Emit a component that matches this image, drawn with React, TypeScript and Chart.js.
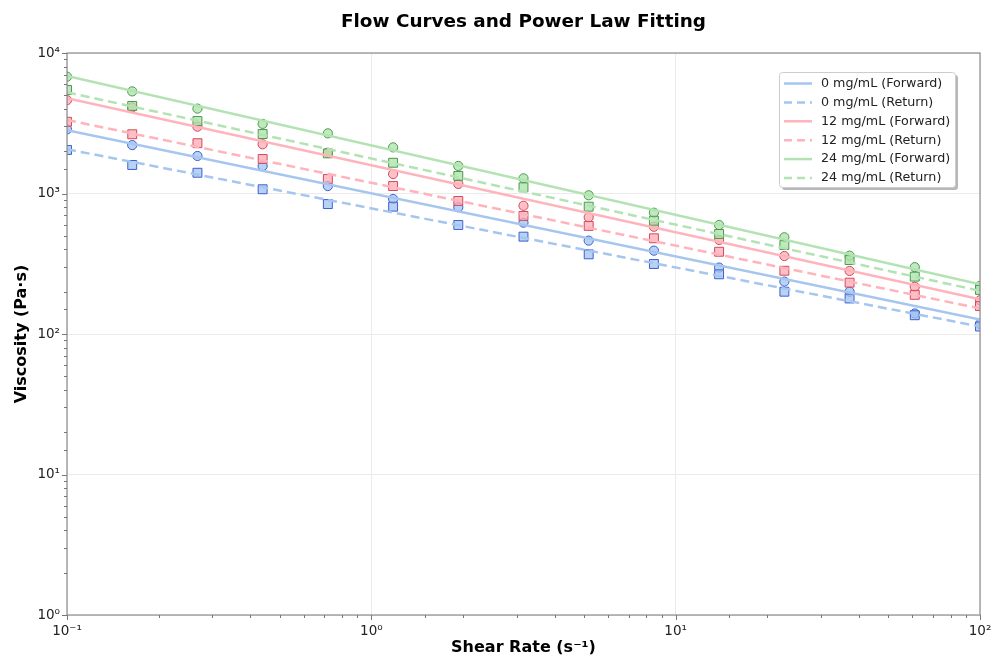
import React, { useEffect, useRef } from 'react';
import { Chart, registerables } from 'chart.js';

Chart.register(...registerables);

// Shear rates (s^-1)
const shearRates = [0.1, 0.1638, 0.2683, 0.4394, 0.7197, 1.179, 1.931, 3.162, 5.179, 8.483, 13.89, 22.76, 37.28, 61.05, 100];

// Measured viscosities (Pa·s)
const fwd0 = [2860, 2210, 1850, 1570, 1130, 914, 798, 620, 462, 392, 297, 236, 200, 140, 118];
const ret0 = [2040, 1596, 1405, 1072, 841, 806, 597, 493, 369, 315, 266, 200, 179, 136, 113];
const fwd12 = [4620, 4100, 2990, 2240, 1950, 1376, 1170, 818, 677, 580, 467, 359, 281, 217, 174];
const ret12 = [3240, 2640, 2280, 1760, 1268, 1130, 885, 692, 588, 480, 385, 282, 232, 190, 158];
const fwd24 = [6780, 5330, 4020, 3130, 2680, 2130, 1570, 1282, 971, 730, 597, 488, 361, 299, 220];
const ret24 = [5460, 4200, 3280, 2650, 1930, 1655, 1334, 1107, 806, 640, 515, 430, 336, 256, 206];

// Power-law fit endpoints (straight lines on log-log axes)
const fitX = [0.1, 100];
const fit0F = [2820, 127];
const fit0R = [2065, 113];
const fit12F = [4760, 177];
const fit12R = [3335, 152];
const fit24F = [6850, 226];
const fit24R = [5250, 203];

const seriesLabels = [
  '0 mg/mL (Forward)',
  '0 mg/mL (Return)',
  '12 mg/mL (Forward)',
  '12 mg/mL (Return)',
  '24 mg/mL (Forward)',
  '24 mg/mL (Return)',
];

const xTickPowers = [-1, 0, 1, 2];
const yTickPowers = [0, 1, 2, 3, 4];

const FONT = "'DejaVu Sans', sans-serif";

const lineColors = ['#a6c6f0', '#ffb3bb', '#b3e3b3'];
const fillColors = ['rgba(160,195,240,0.75)', 'rgba(255,170,180,0.75)', 'rgba(170,225,170,0.75)'];
const edgeColors = ['#3d5fd0', '#d04a5c', '#4a9a4a'];

const supers: Record<string, string> = { '-': '⁻', '0': '⁰', '1': '¹', '2': '²', '3': '³', '4': '⁴' };
const powLabel = (p: number) => '10' + String(p).split('').map((c) => supers[c]).join('');

const isMajor = (v: number) => {
  const l = Math.log10(v);
  return Math.abs(l - Math.round(l)) < 1e-6;
};

const zip = (xs: number[], ys: number[]) => xs.map((x, i) => ({ x, y: ys[i] }));

const decorPlugin = {
  id: 'decor',
  afterDraw(chart: any) {
    const { ctx, chartArea } = chart;
    const { left, right, top, bottom } = chartArea;
    ctx.save();
    // frame
    ctx.strokeStyle = '#8c8c8c';
    ctx.lineWidth = 1.2;
    ctx.strokeRect(left, top, right - left, bottom - top);

    // tick marks
    ctx.strokeStyle = '#777';
    ctx.lineWidth = 1;
    const xs = chart.scales.x;
    xs.ticks.forEach((t: any) => {
      if (t.value < xs.min - 1e-9 || t.value > xs.max + 1e-9) return;
      const px = Math.round(xs.getPixelForValue(t.value)) + 0.5;
      const len = isMajor(t.value) ? 5 : 3;
      ctx.beginPath();
      ctx.moveTo(px, bottom);
      ctx.lineTo(px, bottom + len);
      ctx.stroke();
    });
    const ys = chart.scales.y;
    ys.ticks.forEach((t: any) => {
      if (t.value < ys.min - 1e-9 || t.value > ys.max + 1e-9) return;
      const py = Math.round(ys.getPixelForValue(t.value)) + 0.5;
      const len = isMajor(t.value) ? 5 : 3;
      ctx.beginPath();
      ctx.moveTo(left, py);
      ctx.lineTo(left - len, py);
      ctx.stroke();
    });

    // title
    ctx.fillStyle = '#000';
    ctx.textAlign = 'center';
    ctx.textBaseline = 'middle';
    ctx.font = `bold 18.4px ${FONT}`;
    ctx.fillText('Flow Curves and Power Law Fitting', (left + right) / 2, 22);

    // axis titles
    ctx.font = `bold 16px ${FONT}`;
    ctx.fillText('Shear Rate (s⁻¹)', (left + right) / 2, 648);
    ctx.save();
    ctx.translate(22, (top + bottom) / 2);
    ctx.rotate(-Math.PI / 2);
    ctx.fillText('Viscosity (Pa·s)', 0, 0);
    ctx.restore();

    // legend
    const lx = 779, ly = 72, lw = 176, lh = 115;
    ctx.fillStyle = 'rgba(0,0,0,0.28)';
    ctx.beginPath();
    ctx.roundRect(lx + 3, ly + 3, lw, lh, 3);
    ctx.fill();
    ctx.fillStyle = '#fff';
    ctx.strokeStyle = '#cccccc';
    ctx.lineWidth = 1;
    ctx.beginPath();
    ctx.roundRect(lx + 0.5, ly + 0.5, lw, lh, 3);
    ctx.fill();
    ctx.stroke();
    ctx.font = `12.7px ${FONT}`;
    ctx.textAlign = 'left';
    ctx.textBaseline = 'middle';
    seriesLabels.forEach((lab, i) => {
      const cy = ly + 11.5 + i * 18.9;
      ctx.strokeStyle = lineColors[Math.floor(i / 2)];
      ctx.lineWidth = 2.5;
      ctx.setLineDash(i % 2 === 1 ? [8, 5] : []);
      ctx.beginPath();
      ctx.moveTo(lx + 5, cy);
      ctx.lineTo(lx + 33, cy);
      ctx.stroke();
      ctx.setLineDash([]);
      ctx.fillStyle = '#222';
      ctx.fillText(lab, lx + 42, cy);
    });
    ctx.restore();
  },
};

export default function App() {
  const ref = useRef<HTMLCanvasElement | null>(null);

  useEffect(() => {
    if (!ref.current) return;
    const measured = [fwd0, ret0, fwd12, ret12, fwd24, ret24];
    const fits = [fit0F, fit0R, fit12F, fit12R, fit24F, fit24R];

    const scatterSets = measured.map((vals, i) => {
      const c = Math.floor(i / 2);
      return {
        type: 'scatter' as const,
        label: seriesLabels[i] + ' data',
        data: zip(shearRates, vals),
        showLine: false,
        pointStyle: i % 2 === 0 ? 'circle' : 'rect',
        pointRadius: i % 2 === 0 ? 4.6 : 6.3,
        pointBackgroundColor: fillColors[c],
        pointBorderColor: edgeColors[c],
        pointBorderWidth: 1,
        order: 100 - i,
      };
    });
    const lineSets = fits.map((vals, i) => {
      const c = Math.floor(i / 2);
      return {
        type: 'line' as const,
        label: seriesLabels[i],
        data: zip(fitX, vals),
        borderColor: lineColors[c],
        borderWidth: 2.5,
        borderDash: i % 2 === 1 ? [9, 5] : [],
        pointRadius: 0,
        fill: false,
        tension: 0,
        order: 50 - i,
      };
    });

    const chart = new Chart(ref.current, {
      type: 'scatter',
      data: { datasets: [...scatterSets, ...lineSets] as any },
      options: {
        animation: false,
        responsive: true,
        maintainAspectRatio: false,
        layout: { padding: { top: 53, right: 15, left: 0, bottom: 0 } },
        plugins: {
          legend: { display: false },
          title: { display: false },
          tooltip: { enabled: false },
        },
        scales: {
          x: {
            type: 'logarithmic',
            min: 0.1,
            max: 100,
            afterFit: (s: any) => {
              s.height = 42;
              s.paddingLeft = 0;
              s.paddingRight = 0;
            },
            border: { display: false },
            grid: {
              drawTicks: false,
              color: (c: any) => (c.tick && isMajor(c.tick.value) ? '#ebebeb' : 'rgba(0,0,0,0)'),
            },
            ticks: {
              autoSkip: false,
              maxRotation: 0,
              padding: 8,
              color: '#222',
              font: { family: FONT, size: 13.5 },
              callback: (v: any) => {
                const p = Math.round(Math.log10(Number(v)));
                return isMajor(Number(v)) && xTickPowers.includes(p) ? powLabel(p) : '';
              },
            },
          },
          y: {
            type: 'logarithmic',
            min: 1,
            max: 10000,
            afterFit: (s: any) => {
              s.width = 67;
              s.paddingTop = 0;
              s.paddingBottom = 0;
            },
            border: { display: false },
            grid: {
              drawTicks: false,
              color: (c: any) => (c.tick && isMajor(c.tick.value) ? '#ebebeb' : 'rgba(0,0,0,0)'),
            },
            ticks: {
              autoSkip: false,
              padding: 7,
              color: '#222',
              font: { family: FONT, size: 13.5 },
              callback: (v: any) => {
                const p = Math.round(Math.log10(Number(v)));
                return isMajor(Number(v)) && yTickPowers.includes(p) ? powLabel(p) : '';
              },
            },
          },
        },
      },
      plugins: [decorPlugin],
    });
    return () => chart.destroy();
  }, []);

  return (
    <div style={{ position: 'fixed', left: 0, top: 0, width: 995, height: 657, background: '#fff' }}>
      <canvas ref={ref} />
    </div>
  );
}
